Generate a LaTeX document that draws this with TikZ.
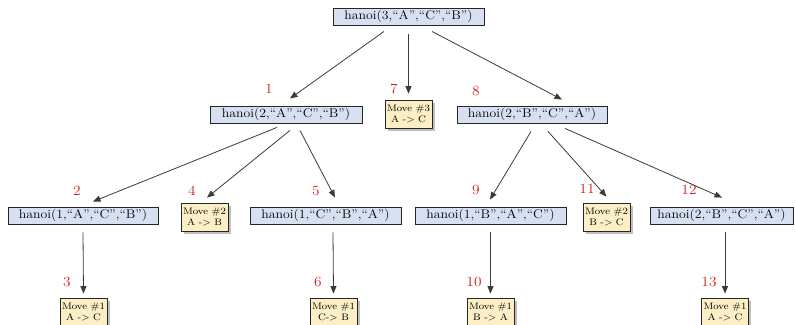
\documentclass[tikz,border=0pt]{standalone}
\usepackage{fontspec}
\setmainfont{Latin Modern Roman}[FakeStretch=1.1]
\usetikzlibrary{arrows.meta,calc,shadows}
\definecolor{callfill}{HTML}{D6E0F1}
\definecolor{movefill}{HTML}{FCEFC6}
\definecolor{numred}{HTML}{D01C1C}
\definecolor{edgegray}{HTML}{3A3A3A}
\tikzset{
  callbox/.style={draw=black!85, fill=callfill, line width=0.9pt, minimum height=17pt,
    inner sep=0pt, font=\fontsize{12.5}{14}\selectfont},
  movebox/.style={draw=black!85, fill=movefill, line width=0.8pt, minimum width=47pt,
    minimum height=28pt, inner sep=0pt, align=center, font=\fontsize{9.5}{11}\selectfont,
    drop shadow={opacity=0.5, shadow xshift=2.5pt, shadow yshift=-2.5pt}},
  stepnum/.style={text=numred, font=\fontsize{14}{16}\selectfont, inner sep=0pt},
  arr/.style={draw=edgegray, line width=0.8pt, -{Triangle[length=7.5pt,width=6pt]}},
}
\begin{document}
\begin{tikzpicture}[x=1pt,y=-1pt]
\useasboundingbox (0,0) rectangle (795,324);

% calls
\node[callbox, minimum width=151pt] (root) at (408.5,16.5) {hanoi(3,``A'',``C'',``B'')};
\node[callbox, minimum width=152pt] (la) at (286,114.5) {hanoi(2,``A'',``C'',``B'')};
\node[callbox, minimum width=150pt] (lb) at (532,114.5) {hanoi(2,``B'',``C'',``A'')};
\node[callbox, minimum width=150pt] (lla) at (83,215.5) {hanoi(1,``A'',``C'',``B'')};
\node[callbox, minimum width=151pt] (llb) at (325.5,215.5) {hanoi(1,``C'',``B'',``A'')};
\node[callbox, minimum width=151pt] (llc) at (490.5,215.5) {hanoi(1,``B'',``A'',``C'')};
\node[callbox, minimum width=143pt] (lld) at (721.5,215.5) {hanoi(2,``B'',``C'',``A'')};

% moves
\node[movebox] (m3) at (408.5,114) {Move \#3\\A -> C};
\node[movebox] (m2a) at (204.5,217) {Move \#2\\A -> B};
\node[movebox] (m2b) at (606.5,217) {Move \#2\\B -> C};
\node[movebox] (m1a) at (83.5,312) {Move \#1\\A -> C};
\node[movebox] (m1b) at (333.5,312) {Move \#1\\C-> B};
\node[movebox] (m1c) at (490.5,312) {Move \#1\\B -> A};
\node[movebox] (m1d) at (725,312) {Move \#1\\A -> C};

% connectors
\draw[arr] ($(root.south)+(-24.5,6)$) -- ($(la.north)+(4,-7)$);
\draw[arr] ($(root.south)+(0,9)$) -- ($(m3.north)+(0,-6)$);
\draw[arr] ($(root.south)+(23.5,6)$) -- ($(lb.north)+(30,-6)$);

\draw[arr] ($(la.south)+(-9,4)$) -- ($(lla.north)+(10,-5)$);
\draw[arr] ($(la.south)+(4,7)$) -- ($(m2a.north)+(2.5,-5)$);
\draw[arr] ($(la.south)+(14,7)$) -- ($(llb.north)+(9.5,-9)$);

\draw[arr] ($(lb.south)+(-1,8)$) -- ($(llc.north)+(-0.5,-7)$);
\draw[arr] ($(lb.south)+(16,8)$) -- ($(m2b.north)+(0,-6)$);
\draw[arr] ($(lb.south)+(33,5)$) -- ($(lld.north)+(0.5,-9)$);

\draw[arr] ($(lla.south)+(0,8)$) -- ($(m1a.north)+(0,-4)$);
\draw[arr] ($(llb.south)+(7.5,8)$) -- ($(m1b.north)+(0,-4)$);
\draw[arr] ($(llc.south)+(0,8)$) -- ($(m1c.north)+(0,-4)$);
\draw[arr] ($(lld.south)+(3.5,8)$) -- ($(m1d.north)+(0,-4)$);

% call order
\node[stepnum] (n1) at (269,89) {1};
\node[stepnum] (n7) at (394,89) {7};
\node[stepnum] (n8) at (476,91) {8};
\node[stepnum] (n2) at (77,191) {2};
\node[stepnum] (n4) at (192,191) {4};
\node[stepnum] (n5) at (316,191) {5};
\node[stepnum] (n9) at (476,190) {9};
\node[stepnum] (n11) at (587,189) {11};
\node[stepnum] (n12) at (689,190) {12};
\node[stepnum] (n3) at (67,282) {3};
\node[stepnum] (n6) at (318,282) {6};
\node[stepnum] (n10) at (474,282) {10};
\node[stepnum] (n13) at (709,282) {13};
\end{tikzpicture}
\end{document}
